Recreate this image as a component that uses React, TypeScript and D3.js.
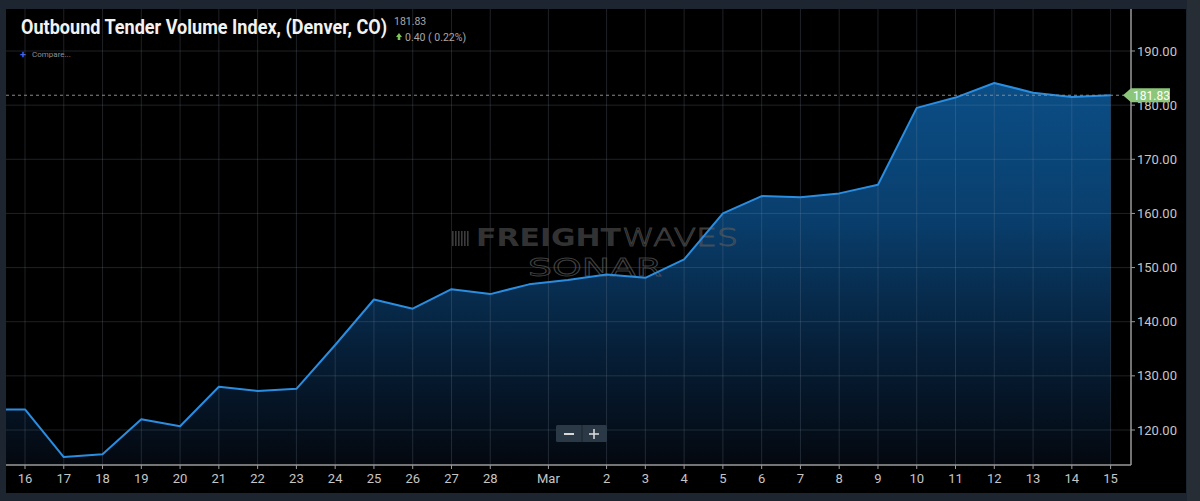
import React from "react";
import * as d3 from "d3";

// ---- data ----
const dates: string[] = [
  "Feb 15", "Feb 16", "Feb 17", "Feb 18", "Feb 19", "Feb 20", "Feb 21", "Feb 22", "Feb 23", "Feb 24",
  "Feb 25", "Feb 26", "Feb 27", "Feb 28", "Feb 29", "Mar 1", "Mar 2", "Mar 3", "Mar 4", "Mar 5",
  "Mar 6", "Mar 7", "Mar 8", "Mar 9", "Mar 10", "Mar 11", "Mar 12", "Mar 13", "Mar 14", "Mar 15",
];
const values: number[] = [
  123.8, 123.8, 115.0, 115.5, 122.0, 120.7, 128.0, 127.2, 127.6, 135.7,
  144.1, 142.4, 146.0, 145.1, 146.9, 147.7, 148.7, 148.1, 151.5, 160.0,
  163.2, 163.0, 163.7, 165.3, 179.5, 181.4, 184.1, 182.3, 181.5, 181.83,
];
const xTickLabels: string[] = [
  "16", "17", "18", "19", "20", "21", "22", "23", "24", "25", "26", "27", "28",
  "Mar", "2", "3", "4", "5", "6", "7", "8", "9", "10", "11", "12", "13", "14", "15",
];
const xTickIndex: number[] = [
  1, 2, 3, 4, 5, 6, 7, 8, 9, 10, 11, 12, 13,
  14.5, 16, 17, 18, 19, 20, 21, 22, 23, 24, 25, 26, 27, 28, 29,
];
const yTicks: number[] = [120, 130, 140, 150, 160, 170, 180, 190];
const title = "Outbound Tender Volume Index, (Denver, CO)";
const lastValue = "181.83";
const changeText = "0.40 ( 0.22%)";

export default function App() {
  const W = 1200;
  const H = 501;
  const panel = { x0: 6, x1: 1186, y0: 9, y1: 493 };
  const plot = { left: 6, right: 1131, top: 9, bottom: 465 };

  const x = d3.scaleLinear().domain([1, 29]).range([25, 1110.6]);
  const y = d3.scaleLinear().domain([120, 190]).range([430, 51]);

  const line = d3
    .line<number>()
    .x((_, i) => x(i))
    .y((d) => y(d));
  const area = d3
    .area<number>()
    .x((_, i) => x(i))
    .y0(plot.bottom)
    .y1((d) => y(d));

  const last = values[values.length - 1];
  const yLast = y(last);
  const font = "Roboto, 'Noto Sans', sans-serif";

  return (
    <svg
      width={W}
      height={H}
      viewBox={`0 0 ${W} ${H}`}
      style={{ position: "absolute", left: 0, top: 0, display: "block" }}
    >
      <defs>
        <linearGradient id="areaGrad" gradientUnits="userSpaceOnUse" x1="0" y1="80" x2="0" y2={plot.bottom}>
          <stop offset="0" stopColor="#0b4e86" />
          <stop offset="0.35" stopColor="#093f6e" />
          <stop offset="0.7" stopColor="#061f38" />
          <stop offset="1" stopColor="#04080f" />
        </linearGradient>
        <clipPath id="plotClip">
          <rect x={plot.left} y={plot.top} width={plot.right - plot.left} height={plot.bottom - plot.top} />
        </clipPath>
      </defs>

      {/* outer frame */}
      <rect x={0} y={0} width={W} height={H} fill="#1d2630" />
      <rect x={1187} y={0} width={13} height={H} fill="#262d35" />
      <rect x={panel.x0} y={panel.y0} width={panel.x1 - panel.x0} height={panel.y1 - panel.y0} fill="#000000" />

      {/* area */}
      <g clipPath="url(#plotClip)">
        <path d={area(values) ?? ""} fill="url(#areaGrad)" />
      </g>

      {/* gridlines */}
      <g stroke="#8a96a8" strokeOpacity={0.22} strokeWidth={1}>
        {xTickIndex.map((t, i) => (
          <line key={"vx" + i} x1={x(t)} x2={x(t)} y1={plot.top} y2={plot.bottom} />
        ))}
        {yTicks.map((t) => (
          <line key={"hy" + t} x1={plot.left} x2={plot.right} y1={y(t)} y2={y(t)} />
        ))}
      </g>

      {/* watermark */}
      <g>
        <g fill="#3c3c3c">
          {[0, 1, 2, 3, 4, 5].map((k) => (
            <rect key={k} x={452 + k * 3} y={231} width={1.6} height={15} />
          ))}
        </g>
        <text x={476} y={246} fontFamily="'DejaVu Sans', sans-serif" fontWeight={900} fontSize={25} fill="#3a3a3a" fillOpacity={0.9} textLength={145} lengthAdjust="spacingAndGlyphs">
          FREIGHT
        </text>
        <text x={622} y={246} fontFamily="'DejaVu Sans', sans-serif" fontWeight={300} fontSize={25} fill="none" stroke="#5a5a5a" strokeOpacity={0.7} strokeWidth={0.9} textLength={116} lengthAdjust="spacingAndGlyphs">
          WAVES
        </text>
        <text x={528} y={276} fontFamily="'DejaVu Sans', sans-serif" fontSize={25} fill="none" stroke="#5a5a5a" strokeOpacity={0.7} strokeWidth={0.9} textLength={134} lengthAdjust="spacingAndGlyphs">
          SONAR
        </text>
      </g>

      {/* line + last value */}
      <g clipPath="url(#plotClip)">
        <path d={line(values) ?? ""} fill="none" stroke="#2b8de0" strokeWidth={2} strokeLinejoin="round" />
        <line x1={plot.left} x2={plot.right} y1={yLast} y2={yLast} stroke="#8a8a8a" strokeWidth={1} strokeDasharray="3,3" />
      </g>

      {/* bottom axis */}
      <line x1={plot.left} x2={plot.right} y1={plot.bottom} y2={plot.bottom} stroke="#9a9a9a" strokeWidth={1.5} />
      {xTickIndex.map((t, i) => (
        <g key={"xt" + i}>
          <line x1={x(t)} x2={x(t)} y1={plot.bottom} y2={plot.bottom + 4} stroke="#9a9a9a" />
          <text x={x(t)} y={plot.bottom + 18} textAnchor="middle" fontFamily={font} fontSize={13} fill="#c6c6c6">
            {xTickLabels[i]}
          </text>
        </g>
      ))}

      {/* right axis */}
      <line x1={plot.right} x2={plot.right} y1={plot.top} y2={plot.bottom} stroke="#9a9a9a" strokeWidth={1.5} />
      {yTicks.map((t) => (
        <g key={"yt" + t}>
          <line x1={plot.right} x2={plot.right + 4} y1={y(t)} y2={y(t)} stroke="#9a9a9a" />
          <text x={plot.right + 6} y={y(t) + 4.5} fontFamily={font} fontSize={13} fill="#c6c6c6">
            {t.toFixed(2)}
          </text>
        </g>
      ))}

      {/* last price flag */}
      <path
        d={`M ${plot.right - 8} ${yLast} L ${plot.right} ${yLast - 7} L ${plot.right + 39} ${yLast - 7} L ${plot.right + 39} ${yLast + 7} L ${plot.right} ${yLast + 7} Z`}
        fill="#8cc67a"
      />
      <text x={plot.right + 2} y={yLast + 4.5} fontFamily={font} fontSize={12} fill="#ffffff">
        {lastValue}
      </text>

      {/* title block */}
      <text x={21} y={34} fontFamily={font} fontWeight={700} fontSize={20} fill="#f2f2f2" textLength={366} lengthAdjust="spacingAndGlyphs">
        {title}
      </text>
      <text x={394} y={25} fontFamily={font} fontSize={10.5} fill="#a8a8a8">
        {lastValue}
      </text>
      <path d="M 396 37 L 399 33 L 402 37 Z M 397.7 37 L 400.3 37 L 400.3 40 L 397.7 40 Z" fill="#7fc45a" />
      <text x={405} y={40.5} fontFamily={font} fontSize={10.5} fill="#a8a8a8">
        {changeText}
      </text>
      <text x={20} y={58} fontFamily={font} fontWeight={700} fontSize={11} fill="#4a63d8">
        +
      </text>
      <text x={32} y={57} fontFamily={font} fontSize={8} fill="#8a8f98">
        Compare...
      </text>

      {/* zoom buttons */}
      <rect x={556} y={425} width={51} height={17} rx={1.5} fill="#2b3845" />
      <line x1={582} x2={582} y1={425} y2={442} stroke="#1c252e" />
      <line x1={564} x2={574} y1={434} y2={434} stroke="#d8d8d8" strokeWidth={2} />
      <line x1={589} x2={599} y1={434} y2={434} stroke="#d8d8d8" strokeWidth={1.6} />
      <line x1={594} x2={594} y1={429} y2={439} stroke="#d8d8d8" strokeWidth={1.6} />
    </svg>
  );
}
